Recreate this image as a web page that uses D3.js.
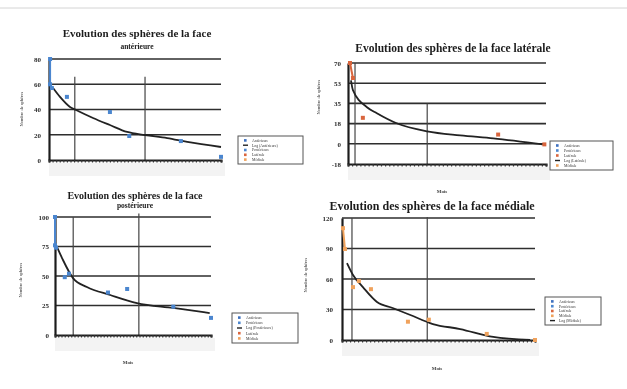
<!DOCTYPE html>
<html>
<head>
<meta charset="utf-8">
<script src="https://cdn.jsdelivr.net/npm/d3@7"></script>
<style>
  body { margin: 0; background: #fff; }
  svg { display: block; }
</style>
</head>
<body>
<script>
// ---- data (x in months, y = nombre de sphères) ----

// face antérieure
const antMonths = [0.15, 0.15, 0.4, 2.5, 8.5, 11.2, 18.4, 24];
const antValues = [80, 60, 57, 50, 38, 19, 15, 2.5];
const antTrendMonths = [0.56, 1.53, 2.93, 3.77, 6.14, 8.5, 10.9, 13.4, 16.5, 19.3, 24];
const antTrendValues = [57, 50, 42, 39.6, 33.3, 27.7, 22.2, 19.8, 17.4, 14.3, 10.3];
const antTicks = [0, 20, 40, 60, 80];
const antTickLabels = ["0", "20", "40", "60", "80"];
const antRefMonths = [3.6, 13.4];
const antRefTop = [66, 66];
const antLegend = ["Antérieure", "Log (Antérieure)", "Postérieure", "Latérale", "Médiale"];

// face latérale
const latMonths = [0.24, 0.6, 1.8, 18.2, 23.8];
const latValues = [70, 57, 22.5, 8, -0.5];
const latTrendMonths = [0.36, 0.6, 2.3, 3.5, 5.9, 9.6, 13.6, 17.6, 23.6];
const latTrendValues = [55, 46.5, 31.7, 26.5, 17.8, 10.8, 7.3, 4.7, -0.5];
const latTicks = [-17.5, 0, 17.5, 35, 52.5, 70];
const latTickLabels = ["-18", "0", "18", "35", "53", "70"];
const latRefMonths = [0.85, 9.6];
const latRefTop = [70, 35];
const latLegend = ["Antérieure", "Postérieure", "Latérale", "Log (Latérale)", "Médiale"];

// face postérieure
const postMonths = [0, 0, 0.15, 1.5, 2.15, 8.15, 11.1, 18.2, 24];
const postValues = [100, 76, 74, 49, 52, 36, 39, 24, 14.5];
const postTrendMonths = [0.3, 1.1, 2.8, 4.9, 8.5, 12.6, 18.2, 23.8];
const postTrendValues = [74.6, 65, 48, 40.7, 33.9, 27.1, 22.9, 18.6];
const postTicks = [0, 25, 50, 75, 100];
const postTickLabels = ["0", "25", "50", "75", "100"];
const postRefMonths = [2.8, 12.9];
const postRefTop = [100, 103];
const postLegend = ["Antérieure", "Postérieure", "Log (Postérieure)", "Latérale", "Médiale"];

// face médiale
const medMonths = [0.12, 0.37, 1.37, 2.1, 3.6, 8.2, 10.8, 18.0, 24];
const medValues = [110, 89.5, 52, 58, 50, 18, 20, 6, 0];
const medTrendMonths = [0.62, 1.37, 2.6, 4.35, 6.3, 8.5, 11.3, 14.7, 18.8, 23.4];
const medTrendValues = [75.7, 64, 52, 37.4, 31.5, 24.6, 15.7, 10.8, 3, 0];
const medTicks = [0, 30, 60, 90, 120];
const medTickLabels = ["0", "30", "60", "90", "120"];
const medRefMonths = [1.24, 10.6];
const medRefTop = [120, 121];
const medLegend = ["Antérieure", "Postérieure", "Latérale", "Médiale", "Log (Médiale)"];

const seriesColor = {
    "Antérieure": "#3d6fbf",
    "Postérieure": "#4b86cf",
    "Latérale": "#d9653c",
    "Médiale": "#f0a25c"
};

const W = 627, H = 389;
const svg = d3.select("body").append("svg").attr("width", W).attr("height", H);

// the reference is a soft scan, so everything gets a slight blur
svg.append("defs").append("filter").attr("id", "scan")
    .append("feGaussianBlur").attr("stdDeviation", 0.45);

const root = svg.append("g").attr("filter", "url(#scan)");

// page edge of the scan
root.append("line")
    .attr("x1", 0).attr("x2", W).attr("y1", 8).attr("y2", 8)
    .attr("stroke", "#d4d4d4").attr("stroke-width", 1);

const serif = "'Liberation Serif', 'DejaVu Serif', serif";

function drawChart(c) {
    const x = d3.scaleLinear().domain([0, 24]).range([c.left, c.right]);
    const y = d3.scaleLinear().domain(c.yDomain).range([c.bottom, c.top]);
    const g = root.append("g");

    // faded tick-label band under the x axis
    g.append("rect")
        .attr("x", c.left).attr("y", c.bottom + 3)
        .attr("width", c.right - c.left + 4).attr("height", 13)
        .attr("fill", "#f3f3f3");

    // horizontal gridlines
    g.append("g").selectAll("line")
        .data(c.ticks.filter(t => t !== c.yDomain[0]))
        .join("line")
        .attr("x1", c.left).attr("x2", c.right)
        .attr("y1", d => y(d)).attr("y2", d => y(d))
        .attr("stroke", "#2e2e2e").attr("stroke-width", 1.6);

    // vertical reference lines
    g.append("g").selectAll("line")
        .data(c.refMonths)
        .join("line")
        .attr("x1", d => x(d)).attr("x2", d => x(d))
        .attr("y1", (d, i) => y(c.refTop[i])).attr("y2", c.bottom)
        .attr("stroke", "#444").attr("stroke-width", 1.2);

    // y axis
    const yAxis = g.append("g")
        .attr("transform", `translate(${c.left},0)`)
        .call(d3.axisLeft(y).tickValues(c.ticks)
            .tickFormat((d, i) => c.tickLabels[i])
            .tickSize(0).tickPadding(c.labelPad));
    yAxis.select(".domain").attr("stroke", "#1e1e1e").attr("stroke-width", 2.2);
    yAxis.selectAll("text")
        .style("font-family", serif).style("font-weight", "bold")
        .style("font-size", "7px").attr("fill", "#2e2e2e");

    // x axis: dense dashes, labels lost in the scan
    const xAxis = g.append("g")
        .attr("transform", `translate(0,${c.bottom})`)
        .call(d3.axisBottom(x).tickValues(d3.range(0, 24.01, 0.5))
            .tickSize(2.5).tickFormat(""));
    xAxis.select(".domain").attr("stroke", "#1e1e1e").attr("stroke-width", 2.2);
    xAxis.selectAll(".tick line").attr("stroke", "#333").attr("stroke-width", 1.2);

    // short connecting segment between the first observations
    const color = seriesColor[c.series];
    g.append("path")
        .datum(d3.range(c.joinCount))
        .attr("d", d3.line().x(i => x(c.months[i])).y(i => y(c.values[i])))
        .attr("fill", "none").attr("stroke", color).attr("stroke-width", 2);

    // logarithmic trend line
    g.append("path")
        .datum(d3.range(c.trendMonths.length))
        .attr("d", d3.line().curve(d3.curveMonotoneX)
            .x(i => x(c.trendMonths[i])).y(i => y(c.trendValues[i])))
        .attr("fill", "none").attr("stroke", "#222").attr("stroke-width", 1.8);

    // points
    g.append("g").selectAll("rect")
        .data(d3.range(c.months.length))
        .join("rect")
        .attr("x", i => x(c.months[i]) - 2)
        .attr("y", i => y(c.values[i]) - 2)
        .attr("width", 4).attr("height", 4)
        .attr("fill", color);

    // titles
    c.titles.forEach((t, i) => {
        g.append("text")
            .attr("x", c.titleX).attr("y", c.titleY[i])
            .attr("text-anchor", "middle")
            .style("font-family", serif).style("font-weight", "bold")
            .style("font-size", c.titleSize[i] + "px")
            .attr("fill", "#1c1c1c")
            .text(t);
    });

    // y title
    g.append("text")
        .attr("transform", `translate(${c.yTitle[0]},${c.yTitle[1]}) rotate(-90)`)
        .attr("text-anchor", "middle")
        .style("font-family", serif).style("font-size", "4.5px")
        .attr("fill", "#333")
        .text("Nombre de sphères");

    if (c.xTitle) {
        g.append("text")
            .attr("x", c.xTitle[0]).attr("y", c.xTitle[1])
            .attr("text-anchor", "middle")
            .style("font-family", serif).style("font-weight", "bold")
            .style("font-size", "5px").attr("fill", "#444")
            .text("Mois");
    }

    // legend
    const lg = g.append("g").attr("transform", `translate(${c.legend[0]},${c.legend[1]})`);
    lg.append("rect")
        .attr("width", c.legend[2]).attr("height", c.legend[3])
        .attr("fill", "#fff").attr("stroke", "#555").attr("stroke-width", 1);
    const step = (c.legend[3] - 4) / c.legendLabels.length;
    c.legendLabels.forEach((lab, i) => {
        const ly = 2 + step * (i + 0.5);
        if (lab.startsWith("Log")) {
            lg.append("line").attr("x1", 5).attr("x2", 10).attr("y1", ly).attr("y2", ly)
                .attr("stroke", "#222").attr("stroke-width", 1.4);
        } else {
            lg.append("rect").attr("x", 6).attr("y", ly - 1.3)
                .attr("width", 2.6).attr("height", 2.6)
                .attr("fill", seriesColor[lab]);
        }
        lg.append("text")
            .attr("x", 14).attr("y", ly + 1.3)
            .style("font-family", serif).style("font-size", "3.8px")
            .attr("fill", "#333")
            .text(lab);
    });
}

drawChart({
    left: 49, right: 221, top: 59, bottom: 160, yDomain: [0, 80],
    ticks: antTicks, tickLabels: antTickLabels, labelPad: 8,
    months: antMonths, values: antValues, joinCount: 3, series: "Postérieure",
    trendMonths: antTrendMonths, trendValues: antTrendValues,
    refMonths: antRefMonths, refTop: antRefTop,
    titles: ["Evolution des sphères de la face", "antérieure"],
    titleX: 137, titleY: [37, 49], titleSize: [11, 7.5],
    yTitle: [23, 109], xTitle: null,
    legend: [238, 136, 65, 28], legendLabels: antLegend
});

drawChart({
    left: 348, right: 546, top: 63, bottom: 164, yDomain: [-17.5, 70],
    ticks: latTicks, tickLabels: latTickLabels, labelPad: 7,
    months: latMonths, values: latValues, joinCount: 2, series: "Latérale",
    trendMonths: latTrendMonths, trendValues: latTrendValues,
    refMonths: latRefMonths, refTop: latRefTop,
    titles: ["Evolution des sphères de la face latérale"],
    titleX: 453, titleY: [52], titleSize: [11.5],
    yTitle: [320, 97], xTitle: [442, 193],
    legend: [550, 141, 63, 29], legendLabels: latLegend
});

drawChart({
    left: 55, right: 211, top: 217, bottom: 335, yDomain: [0, 100],
    ticks: postTicks, tickLabels: postTickLabels, labelPad: 6,
    months: postMonths, values: postValues, joinCount: 3, series: "Postérieure",
    trendMonths: postTrendMonths, trendValues: postTrendValues,
    refMonths: postRefMonths, refTop: postRefTop,
    titles: ["Evolution des sphères de la face", "postérieure"],
    titleX: 135, titleY: [199, 208], titleSize: [10, 7.5],
    yTitle: [22, 280], xTitle: [128, 364],
    legend: [232, 313, 66, 30], legendLabels: postLegend
});

drawChart({
    left: 342, right: 535, top: 218, bottom: 340, yDomain: [0, 120],
    ticks: medTicks, tickLabels: medTickLabels, labelPad: 9,
    months: medMonths, values: medValues, joinCount: 2, series: "Médiale",
    trendMonths: medTrendMonths, trendValues: medTrendValues,
    refMonths: medRefMonths, refTop: medRefTop,
    titles: ["Evolution des sphères de la face médiale"],
    titleX: 432, titleY: [210], titleSize: [12],
    yTitle: [307, 275], xTitle: [437, 370],
    legend: [545, 297, 56, 28], legendLabels: medLegend
});
</script>
</body>
</html>
